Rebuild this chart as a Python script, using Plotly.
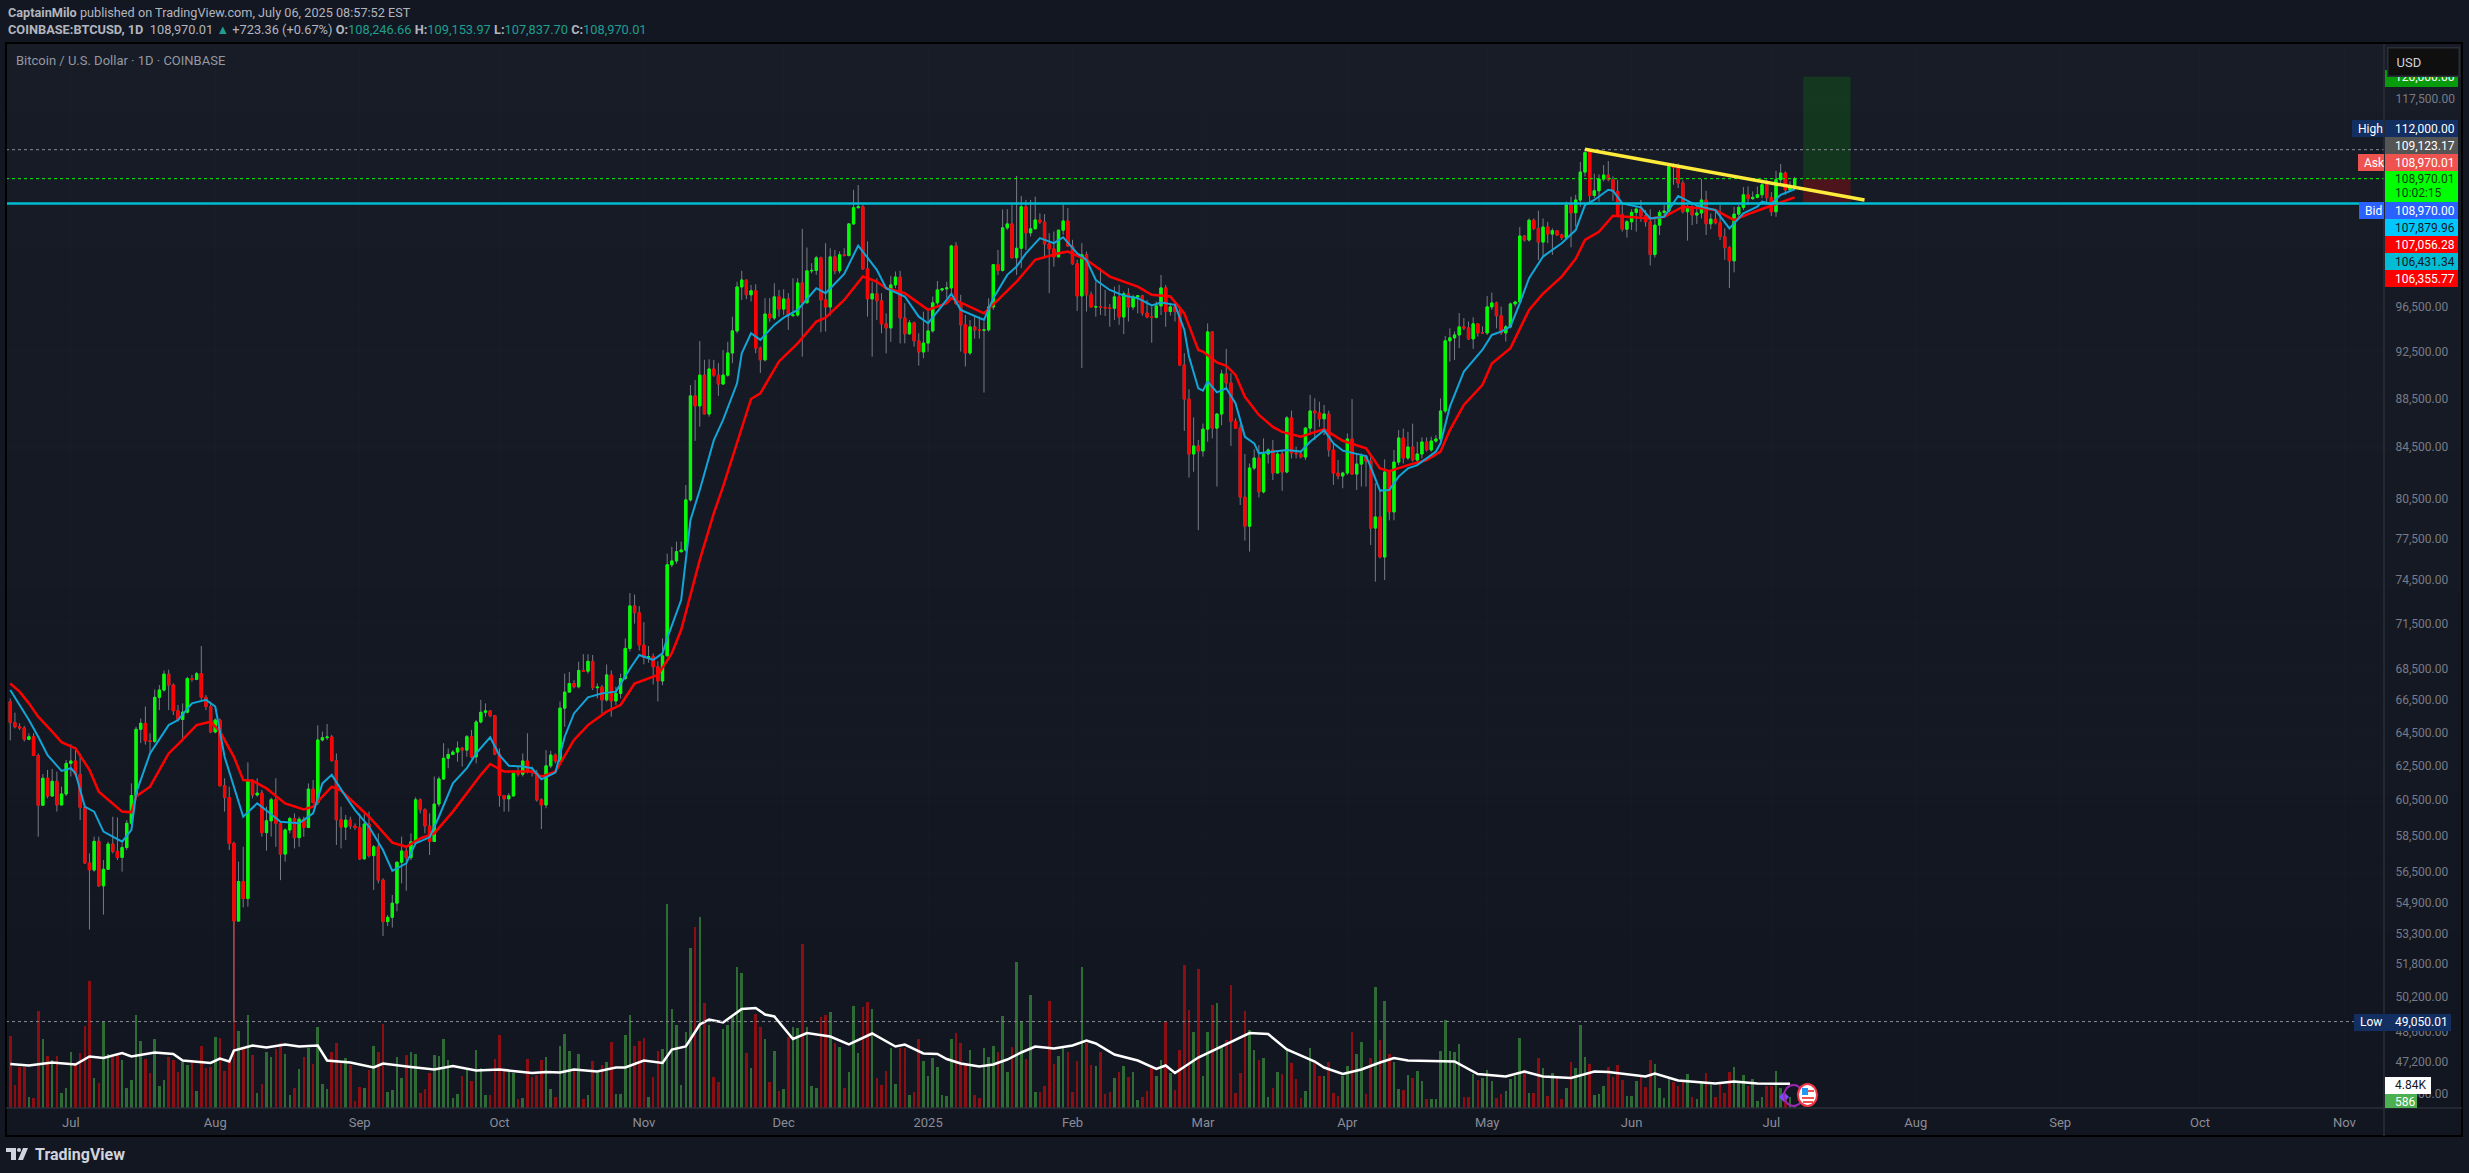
import pandas as pd
import plotly.graph_objects as go

# daily closes, 10 per row, starting 2024-06-18
first_open = 66400
closes = [
    65100, 64850, 64770, 64080, 64240, 63110, 60200, 61760, 60730, 61580,
    60220, 60850, 62640, 62780, 61980, 60080, 57000, 56620, 58180, 55780,
    56660, 58030, 57630, 57300, 57840, 59180, 60760, 64690, 65060, 63990,
    63950, 66680, 67140, 68160, 67460, 65840, 65300, 65750, 67880, 67820,
    68190, 66680, 66100, 64530, 65260, 61330, 60640, 58070, 53950, 56010,
    55110, 61650, 60790, 60900, 58660, 59320, 60520, 59180, 57480, 58810,
    59450, 58380, 59410, 58950, 61130, 60350, 64040, 64180, 64220, 62800,
    59380, 58970, 59360, 59030, 58940, 57220, 59140, 57400, 57880, 56080,
    53920, 54140, 54870, 57040, 57650, 57290, 58150, 60510, 59950, 59030,
    58170, 60270, 61720, 62940, 63170, 63310, 63550, 63430, 64240, 63030,
    65140, 65740, 65830, 65530, 63190, 60760, 60570, 60740, 62060, 62000,
    62780, 62190, 62100, 60510, 60220, 62490, 63130, 62780, 66000, 67010,
    67560, 67350, 68400, 68350, 68990, 67290, 67330, 66520, 68110, 66450,
    66930, 67880, 69840, 72710, 72240, 70060, 69260, 69300, 68640, 67720,
    69350, 75600, 75870, 76540, 76660, 80390, 88710, 87870, 90470, 87200,
    91000, 90470, 89710, 90470, 92390, 94340, 98350, 99000, 97620, 97990,
    92820, 91790, 95860, 95500, 97430, 96310, 97240, 95710, 95770, 98720,
    96880, 99860, 99900, 101100, 97150, 96500, 101190, 99860, 101390, 101320,
    104400, 106010, 106110, 100050, 97240, 97710, 97060, 94970, 94610, 98540,
    99280, 95500, 94080, 95060, 93450, 92480, 93260, 94340, 96880, 98070,
    98170, 98260, 102240, 96790, 94880, 92390, 94700, 94430, 94400, 94430,
    96500, 100450, 99890, 104010, 104400, 101100, 102020, 106110, 103520, 103910,
    104790, 104590, 102440, 101960, 101190, 103780, 104690, 102240, 100530, 97520,
    101390, 97620, 96500, 96530, 96470, 96410, 96380, 97430, 95590, 97710,
    96500, 97430, 97520, 95950, 95590, 95560, 96600, 98260, 96085, 96510,
    96085, 91340, 88440, 83960, 84600, 84200, 85960, 94250, 86040, 87200,
    90575, 89800, 86600, 86040, 80600, 78410, 82850, 83640, 81000, 83960,
    84280, 82460, 83960, 82540, 86880, 84040, 83960, 83720, 86040, 87450,
    87290, 86800, 87200, 84280, 82460, 82230, 82460, 85160, 82380, 83160,
    83800, 83400, 78270, 79100, 76160, 82540, 79480, 83320, 85240, 83640,
    84520, 83480, 83960, 84920, 84280, 85000, 85160, 87450, 93460, 93720,
    93980, 94700, 94610, 93630, 94970, 94160, 94160, 96510, 96870, 95700,
    94160, 94700, 96780, 96960, 103210, 102820, 104760, 103950, 102620, 104090,
    103400, 103730, 103310, 103050, 106280, 105510, 106790, 109650, 111700, 107250,
    107730, 108930, 109340, 108860, 107660, 105340, 103880, 104610, 105540, 105880,
    105210, 104610, 101410, 104280, 105540, 105680, 110220, 110120, 108510, 105610,
    106050, 105280, 105480, 106790, 104410, 104870, 104510, 103150, 102080, 100810,
    105370, 106050, 107320, 106930, 107060, 107320, 108340, 107030, 105610, 108860,
    109550, 107830, 108246, 108970,
]

highs = [
    66610, 65720, 65060, 64900, 64450, 64450, 63230, 62000, 62250, 62310,
    62150, 61270, 62840, 63780, 63620, 63230, 60120, 57520, 58440, 58440,
    57160, 58160, 59550, 59510, 58070, 59360, 61460, 64850, 65360, 66100,
    64450, 67180, 67460, 68400, 68450, 67560, 66200, 66300, 67990, 68110,
    68300, 70000, 66830, 66410, 65360, 65360, 61760, 61270, 58160, 57070,
    57880, 62700, 61660, 61760, 61080, 60120, 60640, 61760, 59270, 58900,
    59550, 59740, 59550, 59550, 61460, 61660, 64930, 64550, 65020, 64350,
    63230, 60120, 59650, 59550, 59180, 59740, 59740, 59840, 57980, 58620,
    56180, 54260, 55300, 57070, 58440, 57880, 58620, 60660, 60600, 60030,
    59740, 61860, 61860, 63840, 63530, 63430, 63950, 63620, 64350, 64650,
    65260, 66520, 66300, 65880, 65570, 63530, 60730, 60890, 62150, 62450,
    63230, 64450, 62450, 62250, 60600, 63430, 63390, 63230, 66410, 68190,
    68300, 67770, 68970, 69460, 69460, 69410, 67560, 67460, 68790, 68400,
    67350, 68190, 70500, 73600, 73500, 72700, 71600, 70000, 69500, 69000,
    70500, 76400, 76900, 77270, 77270, 81530, 89630, 90050, 93430, 91790,
    91840, 91790, 91500, 92650, 93370, 95620, 98840, 99860, 98840, 98540,
    98600, 92940, 97310, 97310, 98690, 98070, 98130, 97770, 99160, 99160,
    103910, 102090, 100590, 101290, 101220, 102510, 102020, 101860, 101700, 102020,
    104470, 107820, 108320, 106300, 102680, 98840, 99160, 97770, 95920, 99390,
    99800, 99860, 96850, 95320, 95170, 94130, 96080, 96390, 97460, 98910,
    98230, 98840, 102350, 102610, 97620, 95770, 95320, 95770, 95620, 95170,
    97310, 100430, 101860, 105840, 105870, 106300, 109250, 107200, 106800, 106800,
    107130, 105450, 105380, 103490, 103650, 103810, 106300, 105970, 102840, 100910,
    102510, 101700, 97920, 98840, 100110, 98070, 96790, 98380, 98540, 97920,
    98230, 97620, 97520, 97620, 97150, 96530, 97000, 99480, 98540, 96840,
    96840, 96540, 92370, 89270, 86920, 85080, 86410, 95010, 94280, 87260,
    90920, 92750, 90630, 86840, 86360, 83960, 83210, 84330, 84680, 85210,
    84410, 85080, 84150, 84280, 87040, 87480, 84550, 84280, 86140, 88790,
    88500, 88220, 87950, 87480, 84810, 83480, 82560, 85610, 88440, 84010,
    84010, 83880, 83750, 81670, 81150, 83530, 82640, 84280, 85880, 86010,
    85740, 86410, 84940, 85290, 85290, 85340, 85480, 88500, 93900, 94570,
    94280, 95940, 95490, 95180, 95570, 94980, 94740, 97500, 97830, 96990,
    96540, 94870, 96900, 97080, 104090, 103310, 104940, 104940, 105710, 104940,
    104600, 103960, 103800, 103430, 106620, 107130, 107320, 110700, 112000, 111700,
    109480, 109410, 110390, 110800, 109200, 108860, 106280, 104770, 105850, 106110,
    106790, 105780, 105850, 105110, 105780, 106280, 110390, 110560, 110560, 108790,
    106280, 106450, 106280, 108930, 107730, 105440, 105780, 106280, 103960, 102240,
    106110, 106280, 108100, 108170, 107660, 108170, 108860, 108860, 107590, 109780,
    110490, 109720, 108690, 109153.97,
]

lows = [
    64020, 64750, 64650, 63950, 64020, 63070, 58440, 60170, 60600, 60700,
    59840, 60220, 60730, 61860, 61860, 59360, 56950, 53520, 56530, 55730,
    54280, 56620, 57520, 57160, 56530, 57700, 59090, 60700, 63860, 63760,
    63270, 63860, 65880, 67040, 65880, 65570, 65160, 63950, 65670, 67670,
    67770, 66520, 65880, 64450, 64450, 61270, 59840, 57700, 49050.01, 53910,
    54650, 54690, 60600, 60700, 58440, 57670, 58440, 57880, 56080, 57070,
    58620, 57790, 57880, 58440, 58900, 60310, 60220, 63950, 64040, 62740,
    57980, 57790, 58250, 58850, 58810, 57160, 57200, 57300, 55560, 55910,
    53190, 53690, 53620, 54450, 55910, 55520, 57160, 58070, 59740, 58620,
    57430, 58160, 60120, 61660, 62350, 63130, 62740, 62450, 63030, 62940,
    62640, 65060, 65470, 65430, 63130, 60120, 59840, 59840, 60700, 61860,
    61860, 62050, 61860, 60410, 58860, 60030, 62350, 62640, 62640, 64850,
    67350, 67250, 67250, 68300, 68190, 67140, 66610, 65670, 66410, 65470,
    66200, 66610, 67770, 69650, 71500, 69700, 68800, 68900, 67500, 66420,
    67450, 69350, 75430, 75680, 76490, 76540, 80260, 85010, 86170, 87250,
    86980, 90330, 88710, 89630, 90330, 91500, 94130, 97150, 97210, 97000,
    92360, 90660, 91650, 95170, 95320, 95620, 95770, 94430, 95620, 95620,
    92070, 96850, 99630, 99480, 94220, 94280, 95710, 99540, 99630, 101220,
    101220, 104300, 105970, 99950, 95620, 92070, 95320, 94130, 92360, 93370,
    98230, 93230, 93230, 93990, 92940, 91290, 91930, 92510, 94190, 96700,
    97920, 97310, 97770, 96850, 92510, 91210, 92220, 93660, 93660, 88990,
    94280, 96240, 99480, 99800, 103810, 101050, 99480, 100110, 101860, 103160,
    103970, 104400, 101050, 97770, 100270, 101160, 103330, 102190, 100430, 96140,
    91090, 96080, 96470, 95620, 95770, 95680, 94710, 95320, 94880, 94050,
    95170, 96240, 95920, 95710, 95470, 93290, 95470, 95770, 94710, 95720,
    95180, 91290, 85820, 82100, 82560, 78120, 83750, 84940, 85210, 81410,
    86270, 89190, 84600, 86010, 80000, 77350, 76550, 82690, 80580, 80880,
    83210, 81920, 82440, 81080, 82440, 83610, 83610, 83610, 83480, 85480,
    85080, 86140, 85480, 83750, 81540, 81970, 81280, 82310, 82310, 81150,
    81410, 81410, 77030, 74400, 76060, 74520, 78850, 78850, 83080, 83210,
    83480, 83350, 83080, 83610, 84150, 84150, 84860, 84940, 87260, 91630,
    91770, 92810, 94420, 93540, 92750, 93840, 94070, 93980, 96240, 94570,
    93980, 93400, 94570, 96540, 96840, 102670, 102670, 103790, 100900, 101220,
    102510, 101380, 103210, 102830, 102990, 102110, 104130, 106110, 109200, 106620,
    106960, 106620, 108690, 108690, 106700, 105110, 103640, 103050, 103800, 103640,
    104610, 104130, 100370, 101130, 103310, 105180, 105440, 108340, 108000, 105440,
    102760, 104280, 104380, 104940, 103310, 103880, 104350, 102830, 100910, 98250,
    99720, 104940, 105780, 106280, 106790, 106960, 106960, 106280, 105180, 105110,
    108510, 107320, 107660, 107837.70,
]

# volume in thousands of BTC
volumes = [
    14.5, 4.7, 8.3, 8.3, 2.3, 2.0, 19.5, 13.8, 10.5, 9.7,
    10.5, 3.1, 4.0, 11.2, 9.1, 11.0, 16.5, 25.5, 6.1, 5.1,
    17.3, 10.9, 10.3, 10.7, 9.7, 4.0, 5.7, 18.7, 13.5, 9.8,
    7.1, 13.8, 4.5, 5.7, 10.3, 9.7, 7.3, 9.3, 8.7, 9.7,
    3.5, 12.5, 8.0, 8.3, 14.3, 14.1, 7.5, 9.7, 37.7, 15.5,
    12.3, 18.7, 10.7, 3.1, 4.9, 11.2, 10.3, 11.9, 13.1, 10.9,
    2.7, 4.0, 7.9, 10.2, 12.0, 8.9, 16.3, 4.9, 3.9, 11.2,
    13.0, 9.0, 10.1, 8.7, 1.5, 4.2, 4.0, 7.7, 12.5, 11.3,
    16.9, 3.3, 3.7, 10.3, 6.0, 10.7, 11.3, 10.9, 3.1, 3.9,
    7.1, 10.7, 10.5, 13.9, 9.7, 2.1, 2.9, 6.5, 7.7, 5.5,
    11.7, 8.0, 2.7, 2.7, 9.8, 14.7, 7.5, 7.3, 7.1, 1.9,
    2.1, 9.9, 6.2, 6.7, 9.7, 10.3, 3.8, 2.3, 12.5, 14.9,
    11.5, 7.7, 10.9, 1.9, 2.7, 9.4, 7.0, 8.7, 9.2, 13.2,
    2.9, 2.9, 14.7, 18.7, 12.5, 13.4, 14.1, 2.3, 6.2, 11.5,
    11.9, 40.9, 19.9, 16.7, 4.7, 15.3, 32.1, 36.3, 38.3, 21.0,
    16.7, 6.3, 5.3, 15.9, 16.7, 18.3, 28.2, 27.1, 11.0, 8.1,
    18.9, 16.3, 13.9, 5.3, 11.5, 3.5, 3.9, 14.3, 16.3, 16.0,
    32.9, 16.3, 4.5, 4.0, 18.2, 18.7, 19.2, 13.0, 12.2, 4.1,
    7.2, 20.5, 11.0, 20.2, 21.2, 19.9, 6.0, 4.7, 7.5, 12.1,
    4.9, 12.1, 12.1, 2.7, 3.3, 13.9, 9.5, 6.5, 10.1, 8.3,
    2.7, 2.5, 13.9, 15.0, 13.0, 9.0, 11.7, 2.7, 2.1, 12.0,
    10.3, 12.5, 11.3, 18.5, 7.3, 12.3, 29.3, 17.5, 9.9, 22.7,
    3.3, 3.3, 4.5, 21.5, 8.9, 10.5, 12.0, 11.3, 3.3, 9.5,
    28.3, 13.0, 8.7, 8.5, 11.2, 2.9, 3.3, 6.0, 7.2, 8.5,
    6.3, 7.3, 1.7, 2.3, 3.5, 8.0, 6.5, 9.7, 17.5, 7.0,
    3.7, 11.7, 28.7, 19.7, 15.3, 27.9, 6.5, 15.3, 20.7, 21.0,
    12.3, 13.7, 24.7, 3.1, 7.1, 19.5, 15.7, 11.7, 9.7, 10.0,
    2.3, 4.0, 7.3, 6.9, 12.0, 9.0, 5.8, 2.1, 3.5, 12.0,
    9.0, 6.5, 6.5, 9.2, 3.1, 2.5, 6.5, 8.5, 15.3, 10.9,
    13.2, 2.9, 10.1, 24.3, 13.7, 21.5, 10.9, 9.3, 3.9, 3.7,
    6.7, 6.1, 7.5, 5.5, 1.9, 1.9, 1.9, 11.5, 17.7, 11.5,
    11.3, 12.9, 2.3, 2.3, 6.9, 5.7, 6.1, 7.7, 5.5, 2.1,
    2.9, 3.5, 5.9, 6.5, 14.1, 7.7, 3.1, 3.1, 10.1, 8.1,
    2.5, 7.0, 6.3, 1.9, 4.1, 9.3, 8.1, 16.7, 10.3, 8.9,
    2.7, 2.9, 4.5, 8.3, 6.2, 8.7, 5.7, 2.5, 2.5, 5.5,
    6.2, 4.3, 9.7, 8.9, 4.1, 2.1, 5.9, 5.2, 4.5, 5.2,
    6.9, 2.3, 1.9, 5.3, 7.1, 4.7, 2.3, 5.0, 3.1, 7.3,
    8.3, 5.5, 6.7, 4.5, 5.9, 1.5, 2.3, 4.5, 4.5, 7.5,
    4.0, 2.3, 2.3, 0.586,
]

# moving averages, read at every few bars (bar number, value)
ema_fast_bars = [
    0, 2, 4, 6, 8, 11, 13, 14, 16, 18, 20, 24, 26, 27, 30, 34, 36, 39, 42, 44, 46, 50, 53, 55, 58, 62, 65,
    67, 69, 72, 74, 77, 80, 82, 85, 87, 90, 92, 95, 98, 100, 103, 105, 107, 110, 112, 114, 117, 119, 121,
    124, 127, 130, 133, 135, 138, 140, 141, 144, 146, 148, 151, 153, 156, 157, 159, 161, 164, 166, 169,
    173, 175, 179, 182, 186, 188, 192, 195, 197, 199, 202, 204, 209, 211, 214, 216, 218, 221, 224, 226,
    229, 231, 233, 236, 239, 242, 245, 247, 250, 252, 253, 255, 256, 257, 259, 261, 263, 265, 267, 268,
    271, 274, 277, 279, 282, 284, 286, 291, 292, 294, 296, 298, 300, 302, 306, 307, 309, 312, 316, 318,
    320, 322, 324, 326, 329, 333, 336, 338, 340, 343, 344, 346, 350, 352, 355, 358, 362, 366, 369, 372,
    375, 376, 378, 380, 383,
]
ema_fast = [
    67140, 66200, 65260, 64240, 63130, 62190, 62350, 62050, 60120, 59840, 58720, 58160, 58810, 60890, 63230,
    64950, 65260, 66300, 66520, 66100, 63030, 59550, 60310, 59900, 59270, 59180, 59740,
    61460, 61960, 60700, 59930, 58990, 57700, 56570, 56980, 58070, 58400, 59550, 61460, 62350, 63230, 64200,
    63130, 62500, 62450, 62350, 61700, 62090, 64240, 65670,
    66680, 66930, 67040, 68510, 69410, 69080, 69520, 70510, 73120, 78870, 81150, 85050, 86710, 89770, 92360,
    94130, 93540, 94880, 95530, 96240,
    98230, 97770, 99570, 102280, 99950, 98230, 97460, 95620, 95030, 96080, 97710, 96240, 95320, 97310, 99480,
    100270, 101530, 103000, 102510, 103090,
    101530, 100910, 99000, 98070, 97550, 97310, 96640, 96910, 96700, 94430, 92070, 89350, 89150, 89920, 89010,
    89350, 88080, 85340, 84810, 84010,
    84150, 84280, 84150, 84940, 85880, 84810, 84230, 83800, 82950, 81100, 81150, 82180, 82820, 83080, 84150,
    84810, 87810, 90770, 92670, 93980,
    94280, 94740, 96840, 99170, 101220, 102510, 103790, 106280, 106790, 107830, 107730, 106450, 106050, 104940,
    105110, 107200, 106220, 105780, 103960, 105440,
    106110, 106620, 106380, 107320, 107879.96,
]
ema_slow_bars = [
    0, 2, 4, 6, 9, 11, 14, 17, 19, 24, 26, 27, 30, 34, 36, 40, 43, 45, 48, 50, 52, 55, 59, 63, 65, 69, 71,
    74, 77, 82, 85, 88, 91, 95, 98, 101, 103, 106, 110, 112, 114, 117, 121, 124, 128, 131, 134, 139, 142,
    144, 148, 151, 153, 157, 159, 161, 165, 169, 173, 175, 179, 183, 186, 188, 192, 197, 201, 202, 206,
    209, 212, 216, 220, 225, 227, 231, 236, 242, 245, 249, 252, 255, 256, 259, 261, 263, 265, 268, 271,
    273, 277, 282, 286, 291, 294, 296, 300, 304, 307, 309, 312, 316, 318, 322, 326, 329, 333, 336, 338,
    341, 344, 348, 352, 355, 359, 363, 366, 370, 373, 376, 379, 383,
]
ema_slow = [
    67560, 67040, 66300, 65470, 64550, 63910, 63530, 62250, 60980, 59840, 59800, 60700, 61270, 63230, 63780,
    64950, 65160, 64550, 63030, 61660, 61620, 61170, 60310, 59970, 60120, 61270, 61040,
    60270, 59550, 58110, 57880, 58340, 58620, 59840, 60890, 61960, 62600, 62150, 62150, 62150, 61860, 62150,
    64040, 64950, 65780, 66200, 67560, 68110, 69520,
    71070, 75950, 79370, 81400, 86170, 88450, 88930, 91650, 93230, 95170, 95530, 97150, 99320, 98840, 98230,
    97770, 96240, 96850, 97310, 96530,
    95920, 97150, 98840, 100910, 101530, 101700, 100910, 99320, 98380, 97620, 97460, 95920, 92650, 92510, 91570,
    91280, 90490, 88630, 87120, 86140,
    85740, 85340, 85960, 85020, 84410, 82820, 82610, 83080, 83480, 84150, 85880, 87950, 89640, 91480, 92810,
    96240, 97740, 99320, 101000, 102820,
    103630, 105210, 105110, 104940, 105110, 106110, 105950, 105780, 104770, 105370, 105880, 106380, 107056.28,
]
vol_avg_bars = [
    0, 4, 9, 14, 17, 20, 24, 26, 31, 35, 37, 40, 43, 45, 47, 48, 52, 55, 59, 62, 66, 68, 73, 78, 80, 86, 91,
    95, 100, 105, 112, 115, 118, 121, 126, 130, 132, 136, 140, 142, 145, 148, 150, 153, 157, 160, 162, 164,
    168, 171, 176, 180, 185, 190, 192, 196, 199, 201, 204, 208, 211, 214, 217, 220, 224, 228, 231, 233,
    237, 242, 246, 248, 250, 255, 261, 266, 270, 274, 280, 282, 286, 290, 294, 297, 300, 310, 315, 321,
    325, 329, 335, 340, 343, 347, 351, 353, 358, 366, 370, 375, 382,
]
vol_avg = [
    8.8, 8.5, 9.1, 8.7, 10.3, 10.0, 11.0, 10.3, 11.1, 10.8, 9.5, 9.2, 9.0, 9.9, 9.3, 11.5, 12.5, 12.1, 12.7,
    12.3, 12.5, 9.5, 9.1, 8.1, 8.9, 8.2, 7.7,
    8.4, 7.5, 7.7, 7.0, 7.2, 7.1, 7.7, 7.3, 8.1, 8.1, 9.5, 9.0, 11.7, 12.3, 16.7, 17.7, 17.1, 19.8, 20.0,
    18.7, 18.3,
    13.8, 15.0, 14.3, 12.7, 14.9, 12.3, 12.7, 10.9, 10.8, 9.8, 8.9, 8.3, 8.7, 9.7, 11.1, 12.3, 11.9, 12.5,
    13.5, 12.9,
    10.7, 9.5, 7.8, 8.5, 7.0, 10.1, 12.7, 15.0, 14.8, 11.7, 9.3, 8.1, 6.8, 7.7, 9.1, 10.0, 9.5, 9.3, 6.8, 6.3,
    7.3, 6.3, 6.0, 7.3, 7.2, 6.7, 6.3, 6.9, 5.5, 4.9, 5.3, 4.9, 4.84,
]

price_ticks = [117500, 96500, 92500, 88500, 84500, 80500, 77500, 74500, 71500, 68500, 66500, 64500, 62500,
               60500, 58500, 56500, 54900, 53300, 51800, 50200, 48600, 47200, 45800]
month_ticks = ["2024-07-01", "2024-08-01", "2024-09-01", "2024-10-01", "2024-11-01", "2024-12-01", "2025-01-01",
               "2025-02-01", "2025-03-01", "2025-04-01", "2025-05-01", "2025-06-01", "2025-07-01", "2025-08-01",
               "2025-09-01", "2025-10-01", "2025-11-01"]
month_labels = ["Jul", "Aug", "Sep", "Oct", "Nov", "Dec", "2025", "Feb", "Mar", "Apr", "May", "Jun", "Jul", "Aug",
                "Sep", "Oct", "Nov"]

period_high = 112000.00
period_low = 49050.01
last_price = 108970.01
support_level = 106431.34
target_level = 120000
trend_start = ("2025-05-22", 112040)
trend_end = ("2025-07-21", 106790)
box_start = "2025-07-07 20:00"
box_end = "2025-07-18 00:00"

# pixel geometry of the page
W, H = 2469, 1173
L, R, T, B = 6, 2384, 43, 1108
FONT = "Roboto"


def px(x):
    return (x - L) / (R - L)


def py(y):
    return 1 - (y - T) / (B - T)


def rect(x0, y0, x1, y1, fill, line=None, layer="above", width=0):
    return dict(type="rect", xref="paper", yref="paper", x0=px(x0), x1=px(x1), y0=py(y0), y1=py(y1),
                fillcolor=fill, line=dict(color=line or fill, width=width), layer=layer)


def text(x, y, s, color, size=12, anchor="left"):
    return dict(xref="paper", yref="paper", x=px(x), y=py(y), text=s, showarrow=False, xanchor=anchor,
                yanchor="middle", align=anchor, font=dict(family=FONT, size=size, color=color))


def level(y_value, color, dash, width=1):
    return dict(type="line", xref="paper", yref="y2", x0=0, x1=1, y0=y_value, y1=y_value,
                line=dict(color=color, dash=dash, width=width), layer="above")


def background_shapes():
    # the chart pane is a slight vertical gradient
    shapes = []
    bands = 16
    for n in range(bands):
        t = n / (bands - 1)
        col = "rgb(%d,%d,%d)" % (24 - 6 * t, 28 - 6 * t, 38 - 5 * t)
        y0 = 43 + (1136 - 43) * n / bands
        y1 = 43 + (1136 - 43) * (n + 1) / bands
        shapes.append(rect(6, y0, 2462, y1 + 1, col, layer="below"))
    return shapes


def frame_shapes():
    shapes = [
        dict(type="rect", xref="paper", yref="paper", x0=px(6), x1=px(2462), y0=py(43), y1=py(1136),
             line=dict(color="#000000", width=2), layer="above"),
        dict(type="line", xref="paper", yref="paper", x0=px(6), x1=px(2462), y0=py(1108), y1=py(1108),
             line=dict(color="#2a2e39", width=1.5), layer="above"),
        dict(type="line", xref="paper", yref="paper", x0=px(2384), x1=px(2384), y0=py(44), y1=py(1136),
             line=dict(color="#2a2e39", width=1.5), layer="above"),
    ]
    return shapes


def drawing_shapes():
    shapes = [
        dict(type="rect", xref="x", yref="y2", x0=box_start, x1=box_end, y0=last_price, y1=target_level,
             fillcolor="rgba(0,200,0,0.16)", line=dict(width=0), layer="above"),
        dict(type="rect", xref="x", yref="y2", x0=box_start, x1=box_end, y0=support_level, y1=last_price,
             fillcolor="rgba(255,0,0,0.24)", line=dict(width=0), layer="above"),
        level(period_high, "#8a8d96", "dot"),
        level(period_low, "#8a8d96", "dot"),
        level(last_price, "#00ff00", "dot"),
        level(support_level, "#00bcd4", "solid", 2.5),
        dict(type="line", xref="x", yref="y2", x0=trend_start[0], y0=trend_start[1], x1=trend_end[0], y1=trend_end[1],
             line=dict(color="#ffeb3b", width=3.5), layer="above"),
    ]
    return shapes


def icon_shapes():
    shapes = [
        # purple event marker and lightning ring
        dict(type="path", xref="paper", yref="paper", layer="above",
             path="M %f %f L %f %f L %f %f L %f %f Z" % (px(1784), py(1092), px(1789), py(1097), px(1784), py(1102),
                                                        px(1779), py(1097)),
             fillcolor="#7c4dff", line=dict(width=0)),
        dict(type="circle", xref="paper", yref="paper", x0=px(1784), x1=px(1803), y0=py(1085), y1=py(1106),
             line=dict(color="#9c27b0", width=2), layer="above"),
        # flag badge
        dict(type="circle", xref="paper", yref="paper", x0=px(1798), x1=px(1817), y0=py(1084), y1=py(1106),
             fillcolor="#ffffff", line=dict(color="#f23645", width=2), layer="above"),
        rect(1802, 1088, 1808, 1095, "#2196f3"),
        rect(1808, 1090, 1814, 1092, "#ef5350"),
        rect(1802, 1097, 1814, 1099, "#ef5350"),
        rect(1803, 1101, 1813, 1103, "#ef5350"),
    ]
    # TradingView logo
    shapes += [
        rect(6, 1148, 16, 1152, "#d1d4dc"),
        rect(11, 1148, 16, 1160, "#d1d4dc"),
        dict(type="circle", xref="paper", yref="paper", x0=px(17), x1=px(21), y0=py(1148), y1=py(1152),
             fillcolor="#d1d4dc", line=dict(width=0), layer="above"),
        dict(type="path", xref="paper", yref="paper", layer="above",
             path="M %f %f L %f %f L %f %f L %f %f Z" % (px(23), py(1148), px(28), py(1148), px(23), py(1160),
                                                        px(18), py(1160)),
             fillcolor="#d1d4dc", line=dict(width=0)),
    ]
    return shapes


def axis_labels():
    # (top, bottom, fill, text colour, text, tag, tag left edge)
    rows = [
        (120, 137, "#132e60", "#ffffff", "112,000.00", "High", 2352),
        (137, 154, "#555555", "#ffffff", "109,123.17", None, None),
        (154, 171, "#ef5350", "#ffffff", "108,970.01", "Ask", 2358),
        (202, 219, "#2962ff", "#ffffff", "108,970.00", "Bid", 2359),
        (219, 236, "#00c8ff", "#131722", "107,879.96", None, None),
        (236, 253, "#ff0000", "#ffffff", "107,056.28", None, None),
        (253, 270, "#00bcd4", "#131722", "106,431.34", None, None),
        (270, 287, "#ff0000", "#ffffff", "106,355.77", None, None),
    ]
    shapes, notes = [], []
    for top, bottom, fill, col, label, tag, tag_x in rows:
        shapes.append(rect(2385, top, 2458, bottom, fill))
        notes.append(text(2393, (top + bottom) / 2 + 0.5, label, col))
        if tag:
            shapes.append(rect(tag_x, top, 2384, bottom, fill))
            notes.append(text(tag_x + 4, (top + bottom) / 2 + 0.5, tag, col))
    # target label, its top half goes under the currency button
    shapes.append(rect(2385, 70, 2458, 87, "#089c0d"))
    notes.append(text(2393, 77, "120,000.00", "#ffffff"))
    # clock box under the last price
    shapes.append(rect(2385, 171, 2458, 202, "#00ff00"))
    notes.append(text(2393, 179, "108,970.01", "#0b3d0b"))
    notes.append(text(2393, 193, "10:02:15", "#0b3d0b"))
    # low tag
    shapes.append(rect(2354, 1014, 2451, 1031, "#132e60"))
    notes.append(text(2358, 1022, "Low", "#ffffff"))
    notes.append(text(2393, 1022, "49,050.01", "#ffffff"))
    # volume tags
    shapes.append(rect(2385, 1077, 2431, 1094, "#ffffff"))
    notes.append(text(2393, 1085, "4.84K", "#131722"))
    shapes.append(rect(2385, 1094, 2417, 1108, "#4caf50"))
    notes.append(text(2393, 1102, "586", "#ffffff"))
    # currency button, an annotation so it sits over the 120,000 label like the original
    notes.append(dict(xref="paper", yref="paper", x=px(2423), y=py(61.5), text="USD", showarrow=False, xanchor="center",
                      yanchor="middle", width=54, height=11, align="left", bgcolor="#0f0f0f", bordercolor="#2a2e39",
                      borderwidth=1.5, borderpad=8, font=dict(family=FONT, size=13, color="#d1d4dc")))
    return shapes, notes


def header_notes():
    teal = "#1f9e8f"
    line1 = "<b>CaptainMilo</b> published on TradingView.com, July 06, 2025 08:57:52 EST"
    line2 = ("<b>COINBASE:BTCUSD, 1D</b>  108,970.01 <span style='color:%s'>▲</span> +723.36 (+0.67%%) "
             "<b>O:</b><span style='color:%s'>108,246.66</span> <b>H:</b><span style='color:%s'>109,153.97</span> "
             "<b>L:</b><span style='color:%s'>107,837.70</span> <b>C:</b><span style='color:%s'>108,970.01</span>"
             % (teal, teal, teal, teal, teal))
    return [
        text(6, 12.5, line1, "#b2b5be", 12.7),
        text(6, 29.5, line2, "#b2b5be", 12.8),
        text(14, 60, "Bitcoin / U.S. Dollar · 1D · COINBASE", "#9598a1", 13),
        text(33, 1154, "<b>TradingView</b>", "#d1d4dc", 16),
    ]


def main():
    assert len(closes) == len(highs) == len(lows) == len(volumes) == 384
    assert len(ema_fast) == len(ema_fast_bars)
    assert len(ema_slow) == len(ema_slow_bars)
    assert len(vol_avg) == len(vol_avg_bars)

    dates = pd.date_range("2024-06-18", periods=len(closes), freq="D")
    opens = [first_open] + closes[:-1]
    body_top = [max(o, c) for o, c in zip(opens, closes)]
    body_bottom = [min(o, c) for o, c in zip(opens, closes)]
    vol_colors = ["#2f6b35" if c >= o else "#8b0f12" for o, c in zip(opens, closes)]

    fig = go.Figure()
    fig.add_trace(go.Bar(x=dates, y=volumes, marker=dict(color=vol_colors, line=dict(width=0)),
                         width=0.55 * 86400000, yaxis="y", showlegend=False))
    fig.add_trace(go.Scatter(x=dates[vol_avg_bars], y=vol_avg, mode="lines", yaxis="y", showlegend=False,
                             line=dict(color="#ffffff", width=2.5)))
    # wicks first, then the body without its wick on top
    fig.add_trace(go.Candlestick(x=dates, open=opens, high=highs, low=lows, close=closes, yaxis="y2",
                                 whiskerwidth=0, showlegend=False,
                                 increasing=dict(line=dict(color="#787b86", width=1), fillcolor="rgba(0,0,0,0)"),
                                 decreasing=dict(line=dict(color="#787b86", width=1), fillcolor="rgba(0,0,0,0)")))
    fig.add_trace(go.Candlestick(x=dates, open=opens, high=body_top, low=body_bottom, close=closes, yaxis="y2",
                                 whiskerwidth=0, showlegend=False,
                                 increasing=dict(line=dict(color="#00ff00", width=1), fillcolor="#00ff00"),
                                 decreasing=dict(line=dict(color="#ff0000", width=1), fillcolor="#ff0000")))
    fig.add_trace(go.Scatter(x=dates[ema_slow_bars], y=ema_slow, mode="lines", yaxis="y2", showlegend=False,
                             line=dict(color="#ff0000", width=2.5)))
    fig.add_trace(go.Scatter(x=dates[ema_fast_bars], y=ema_fast, mode="lines", yaxis="y2", showlegend=False,
                             line=dict(color="#12a5d8", width=2)))

    label_shapes, label_notes = axis_labels()
    shapes = background_shapes() + drawing_shapes() + icon_shapes() + frame_shapes() + label_shapes

    fig.update_layout(
        width=W, height=H, autosize=False,
        margin=dict(l=L, r=W - R, t=T, b=H - B, pad=0),
        paper_bgcolor="#131722", plot_bgcolor="rgba(0,0,0,0)",
        font=dict(family=FONT, size=13, color="#787b86"),
        boxgap=0.3, bargap=0, showlegend=False,
        xaxis=dict(type="date", range=["2024-06-17 02:00", "2025-11-09 12:00"], rangeslider=dict(visible=False),
                   tickmode="array", tickvals=month_ticks, ticktext=month_labels, tickfont=dict(size=13, color="#8a8d96"),
                   ticks="outside", ticklen=2, tickcolor="rgba(0,0,0,0)", showgrid=True,
                   gridcolor="rgba(255,255,255,0.012)", zeroline=False, showline=False),
        yaxis=dict(range=[0, 213], visible=False, fixedrange=True),
        yaxis2=dict(type="log", overlaying="y", side="right", range=[4.6551, 5.0931], tickmode="array",
                    tickvals=price_ticks, ticktext=["{:,.2f}".format(v) for v in price_ticks],
                    tickfont=dict(size=12, color="#787b86"), ticks="outside", ticklen=8, tickcolor="rgba(0,0,0,0)",
                    showgrid=True, gridcolor="rgba(255,255,255,0.012)", zeroline=False, showline=False),
        shapes=shapes,
        annotations=header_notes() + label_notes,
    )
    fig.write_html("out.html", config={"displayModeBar": False},
                   post_script="document.body.style.margin='0';"
                               "document.documentElement.style.overflow='hidden';")


if __name__ == "__main__":
    main()
